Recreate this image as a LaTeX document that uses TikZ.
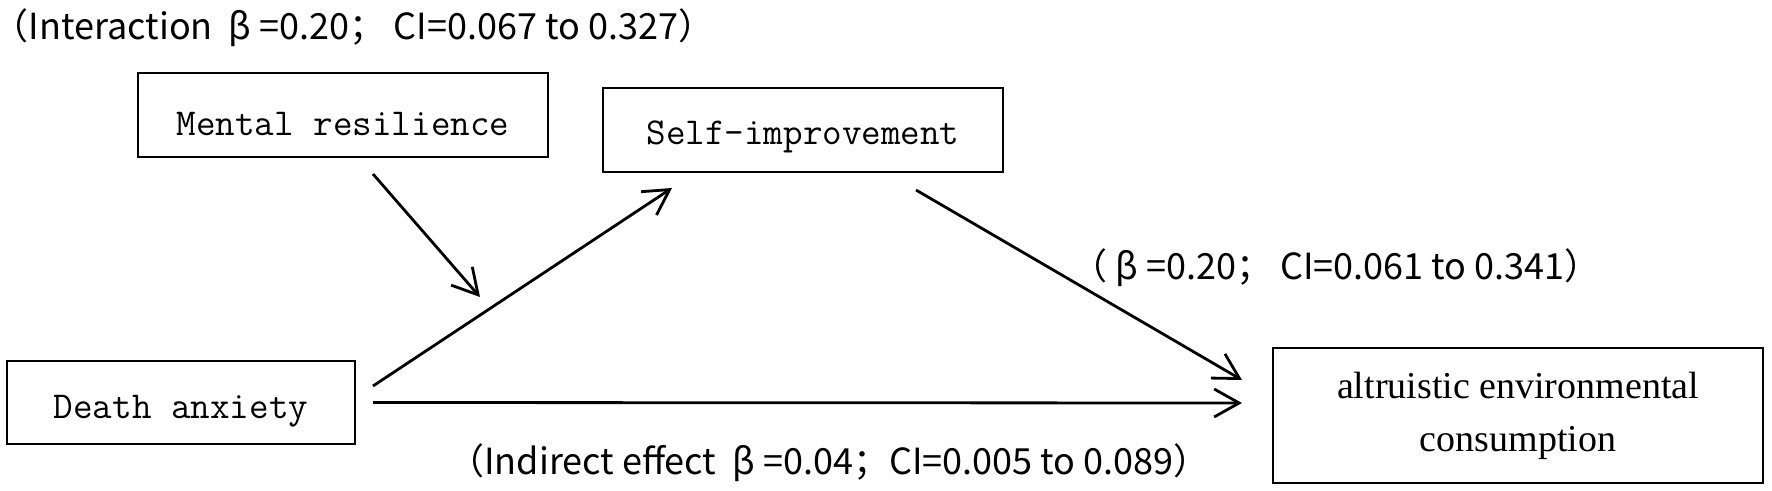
\documentclass[tikz,border=0pt]{standalone}
\usepackage{fontspec}
\newfontfamily\serifA{Liberation Serif}
\newfontfamily\cjk{Noto Sans CJK SC}
\usetikzlibrary{arrows.meta,calc}
\begin{document}
\begin{tikzpicture}[x=1pt,y=-1pt,
  box/.style={draw, line width=2pt, inner sep=0pt},
  mono/.style={font=\ttfamily\fontsize{38}{40}\selectfont\addfontfeatures{FakeStretch=0.96}},
  lab/.style={font=\cjk\fontsize{36}{40}\selectfont, inner sep=0pt},
  arr/.style={line width=2.8pt, -{Straight Barb[length=25pt,width=28pt,line width=2.8pt]}}]
\useasboundingbox (0,0) rectangle (1772,490);
\node[box,mono,minimum width=410pt,minimum height=84pt,text height=40pt,text depth=0pt] (mr) at (343,115) {Mental resilience};
\node[box,mono,minimum width=400pt,minimum height=84pt,text height=28pt,text depth=0pt] (si) at (803,130) {Self-improvement};
\node[box,mono,minimum width=348pt,minimum height=83pt,text height=31pt,text depth=0pt] (da) at (181,402.5) {Death anxiety};
\node[box,font=\serifA\fontsize{38}{53}\selectfont,align=center,minimum width=490pt,minimum height=135pt] (aec) at (1518,415.5) {altruistic environmental\\consumption};
\node[lab] (l1) at (353.5,28) {（Interaction\ \ β =0.20；\ CI=0.067 to 0.327）};
\node[lab] (l2) at (1336,268) {（ β =0.20；\ CI=0.061 to 0.341）};
\node[lab] (l3) at (829,463) {（Indirect effect\ \ β =0.04；CI=0.005 to 0.089）};
\coordinate (m) at (480,297);
\draw[arr] ($(mr.south)+(30,16)$) -- (m);
\draw[arr] ($(da.east)+(17,-16.5)$) -- ($(si.south west)+(70,15)$);
\draw[arr] ($(si.south east)+(-88,17)$) -- ($(aec.west)+(-30,-35.5)$);
\draw[arr] ($(da.east)+(17,0)$) -- ($(aec.west)+(-30,-12.5)$);
\end{tikzpicture}
\end{document}
